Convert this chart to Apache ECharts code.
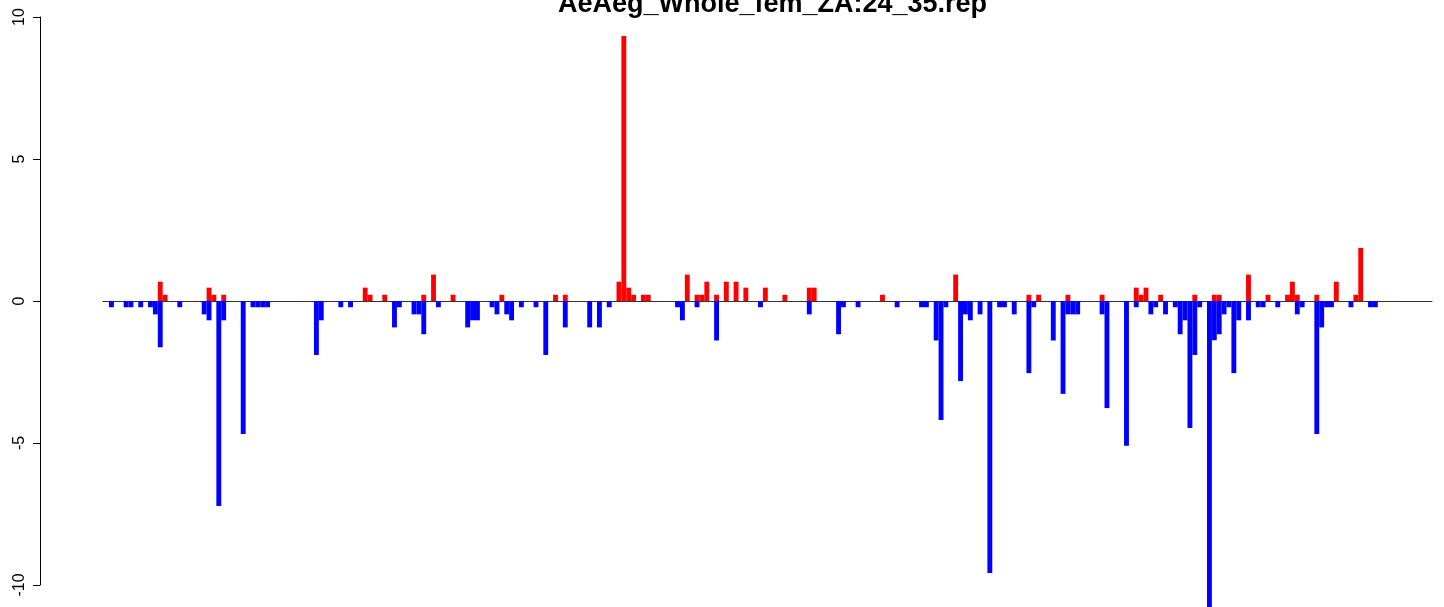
<!DOCTYPE html>
<html>
<head>
<meta charset="utf-8">
<script src="https://cdn.jsdelivr.net/npm/echarts@6/dist/echarts.min.js"></script>
<style>
html,body{margin:0;padding:0;background:#fff;}
#chart{width:1444px;height:607px;}
</style>
</head>
<body>
<div id="chart"></div>
<script>
// Chart title
const chartTitle = 'AeAeg_Whole_fem_ZA:24_35.rep';
// y tick values
const yTicks = [-10, -5, 0, 5, 10];
// number of bins along the x axis
const binCount = 260;
// positive (red) bars: [bin index, value]
const redBars = [
  [10,0.68],[11,0.22],[20,0.47],[21,0.22],[23,0.22],[52,0.47],[53,0.22],[56,0.22],
  [64,0.22],[66,0.93],[70,0.22],[80,0.22],[91,0.22],[93,0.22],[104,0.68],[105,9.33],
  [106,0.47],[107,0.22],[109,0.22],[110,0.22],[118,0.93],[120,0.22],[121,0.22],[122,0.68],
  [124,0.22],[126,0.68],[128,0.68],[130,0.47],[134,0.47],[138,0.22],[143,0.47],[144,0.47],
  [158,0.22],[173,0.93],[188,0.22],[190,0.22],[196,0.22],[203,0.22],[210,0.47],[211,0.22],
  [212,0.47],[215,0.22],[222,0.22],[226,0.22],[227,0.22],[233,0.93],[237,0.22],[241,0.22],
  [242,0.68],[243,0.22],[247,0.22],[251,0.68],[255,0.22],[256,1.87]
];
// negative (blue) bars: [bin index, value]
const blueBars = [
  [0,-0.22],[3,-0.22],[4,-0.22],[6,-0.22],[8,-0.22],[9,-0.47],[10,-1.63],[14,-0.22],
  [19,-0.47],[20,-0.68],[22,-7.22],[23,-0.68],[27,-4.68],[29,-0.22],[30,-0.22],[31,-0.22],
  [32,-0.22],[42,-1.9],[43,-0.68],[47,-0.22],[49,-0.22],[58,-0.93],[59,-0.22],[62,-0.47],
  [63,-0.47],[64,-1.17],[67,-0.22],[73,-0.93],[74,-0.68],[75,-0.68],[78,-0.22],[79,-0.47],
  [81,-0.47],[82,-0.68],[84,-0.22],[87,-0.22],[89,-1.9],[93,-0.93],[98,-0.93],[100,-0.93],
  [102,-0.22],[116,-0.22],[117,-0.68],[120,-0.22],[124,-1.39],[133,-0.22],[143,-0.47],
  [149,-1.17],[150,-0.22],[153,-0.22],[161,-0.22],[166,-0.22],[167,-0.22],[169,-1.39],
  [170,-4.19],[171,-0.22],[174,-2.82],[175,-0.47],[176,-0.68],[178,-0.47],[180,-9.58],
  [182,-0.22],[183,-0.22],[185,-0.47],[188,-2.54],[189,-0.22],[193,-1.39],[195,-3.27],
  [196,-0.47],[197,-0.47],[198,-0.47],[203,-0.47],[204,-3.77],[208,-5.1],[210,-0.22],
  [213,-0.47],[214,-0.22],[216,-0.47],[218,-0.22],[219,-1.17],[220,-0.68],[221,-4.47],
  [222,-1.9],[223,-0.22],[225,-10.8],[226,-1.38],[227,-1.17],[228,-0.47],[229,-0.22],
  [230,-2.54],[231,-0.68],[233,-0.68],[235,-0.22],[236,-0.22],[239,-0.22],[243,-0.47],
  [244,-0.22],[247,-4.68],[248,-0.93],[249,-0.22],[250,-0.22],[254,-0.22],[258,-0.22],
  [259,-0.22]
];

const chart = echarts.init(document.getElementById('chart'), null, {renderer: 'canvas'});
const gridLeft = 103, gridRight = 12;
const plotWidth = 1444 - gridLeft - gridRight;
const binPx = 4.88;
const xMin = -(109 + binPx / 2 - gridLeft) / binPx;
const xMax = xMin + plotWidth / binPx;

chart.setOption({
  animation: false,
  backgroundColor: '#ffffff',
  title: {
    text: chartTitle,
    left: gridLeft + plotWidth / 2,
    textAlign: 'center',
    top: -14,
    textStyle: {fontFamily: 'Liberation Sans', fontWeight: 'bold', fontSize: 27, color: '#000'}
  },
  grid: {left: gridLeft, right: gridRight, top: 17, bottom: 22, containLabel: false},
  xAxis: {
    type: 'value', min: xMin, max: xMax,
    axisLine: {show: true, onZero: true, lineStyle: {color: '#333', width: 1}},
    axisTick: {show: false}, axisLabel: {show: false}, splitLine: {show: false}
  },
  yAxis: {
    type: 'value', min: yTicks[0], max: yTicks[yTicks.length - 1], interval: 5,
    position: 'left', offset: gridLeft - 40,
    axisLine: {show: true, onZero: false, lineStyle: {color: '#000', width: 1}},
    axisTick: {show: true, length: 7, lineStyle: {color: '#000'}},
    axisLabel: {rotate: 90, margin: 12, fontFamily: 'Liberation Sans', fontSize: 16, color: '#000'},
    splitLine: {show: false}
  },
  series: [
    {type: 'bar', name: 'down', stack: 'all', data: blueBars, barWidth: binPx, clip: false,
     itemStyle: {color: '#0000FF'}},
    {type: 'bar', name: 'up', stack: 'all', data: redBars, barWidth: binPx, clip: false,
     itemStyle: {color: '#FF0000'}}
  ]
});
</script>
</body>
</html>
